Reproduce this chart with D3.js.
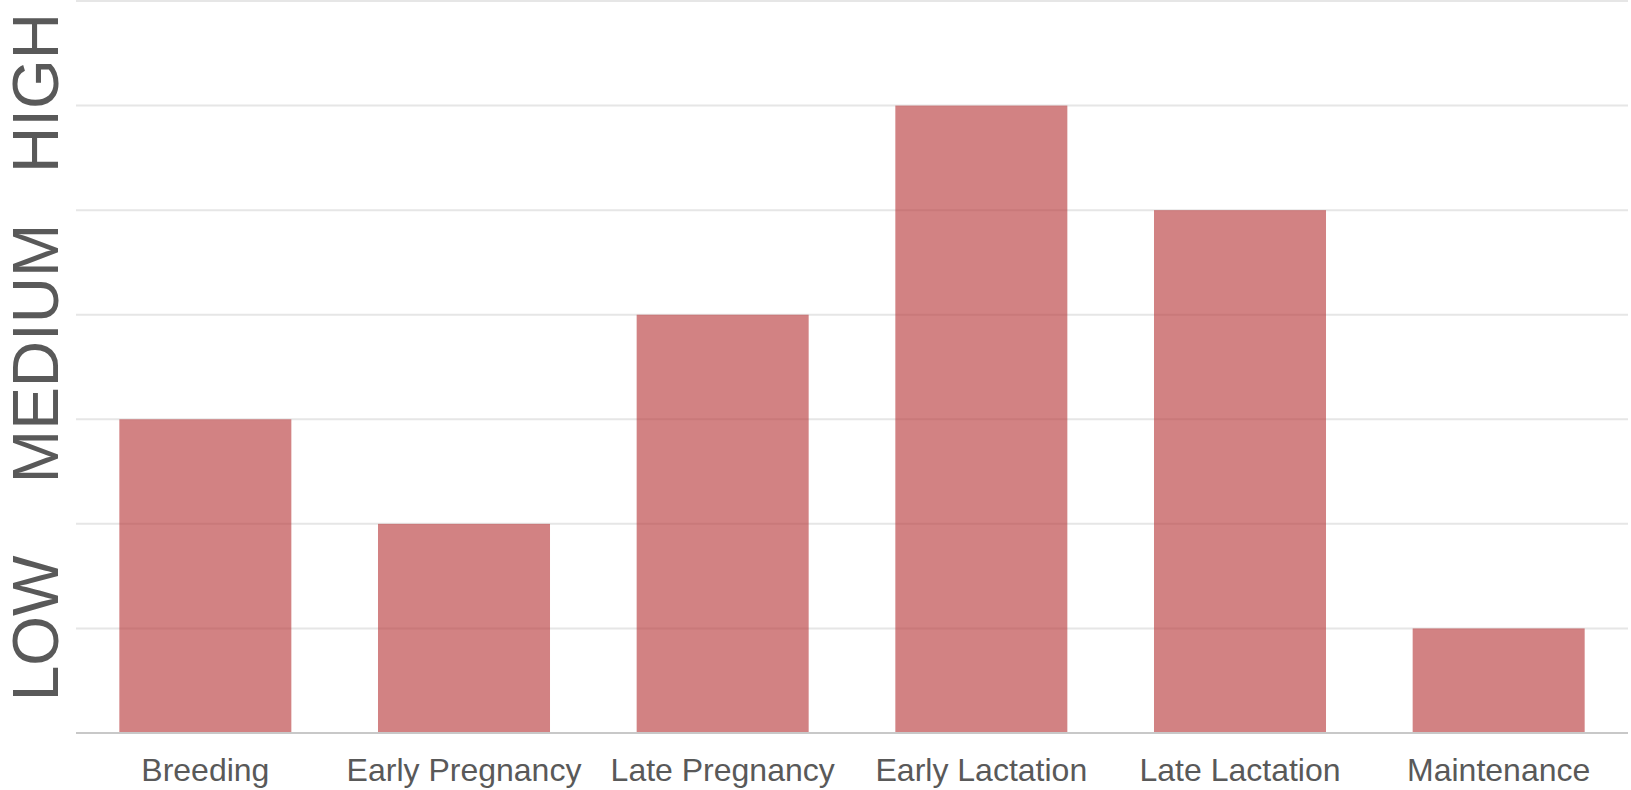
<!DOCTYPE html>
<html>
<head>
<meta charset="utf-8">
<script src="https://cdn.jsdelivr.net/npm/d3@7/dist/d3.min.js"></script>
<style>
  html, body { margin: 0; padding: 0; background: #fff; }
  svg { display: block; font-family: "Liberation Sans", Arial, Helvetica, sans-serif; }
</style>
</head>
<body>
<svg id="chart" width="1631" height="790"></svg>
<script>
// Feed requirement by production stage (0 = none, 7 = top of scale)
const stages = ["Breeding", "Early Pregnancy", "Late Pregnancy", "Early Lactation", "Late Lactation", "Maintenance"];
const requirement = [3, 2, 4, 6, 5, 1];
const levelTicks = [1, 2, 3, 4, 5, 6, 7];
const levelLabels = ["LOW", "MEDIUM", "HIGH"];
const levelLabelAt = [1, 3.63, 6.12];

const svg = d3.select("#chart");
const plot = { left: 76, right: 1628, top: 1, bottom: 733 };

const x = d3.scaleBand()
  .domain(stages)
  .range([plot.left, plot.right])
  .paddingInner(0.335)
  .paddingOuter(0.1675);

const y = d3.scaleLinear()
  .domain([0, 7])
  .range([plot.bottom, plot.top]);

// horizontal grid
svg.append("g")
  .selectAll("line")
  .data(levelTicks)
  .join("line")
  .attr("x1", plot.left)
  .attr("x2", plot.right)
  .attr("y1", d => y(d))
  .attr("y2", d => y(d))
  .attr("stroke", "#e6e6e6")
  .attr("stroke-width", 2);

// bars
svg.append("g")
  .selectAll("rect")
  .data(stages.map((s, i) => ({ stage: s, value: requirement[i] })))
  .join("rect")
  .attr("x", d => x(d.stage))
  .attr("width", x.bandwidth())
  .attr("y", d => y(d.value))
  .attr("height", d => y(0) - y(d.value))
  .attr("fill", "#b8393b")
  .attr("fill-opacity", 0.63);

// category axis
const xAxis = svg.append("g")
  .attr("transform", `translate(0,${plot.bottom})`)
  .call(d3.axisBottom(x).tickSize(0).tickPadding(0));
xAxis.select(".domain")
  .attr("d", `M${plot.left},0H${plot.right}`)
  .attr("stroke", "#c8c8c8")
  .attr("stroke-width", 2);
xAxis.selectAll("text")
  .attr("dy", null)
  .attr("y", 48)
  .attr("font-size", 32)
  .attr("font-family", "Liberation Sans, Arial, sans-serif")
  .attr("fill", "#595959");

// level labels on the value axis
svg.append("g")
  .selectAll("text")
  .data(levelLabels.map((t, i) => ({ t, v: levelLabelAt[i] })))
  .join("text")
  .attr("transform", d => `translate(58,${y(d.v)}) rotate(-90)`)
  .attr("text-anchor", "middle")
  .attr("font-size", 64)
  .attr("fill", "#595959")
  .text(d => d.t);
</script>
</body>
</html>
